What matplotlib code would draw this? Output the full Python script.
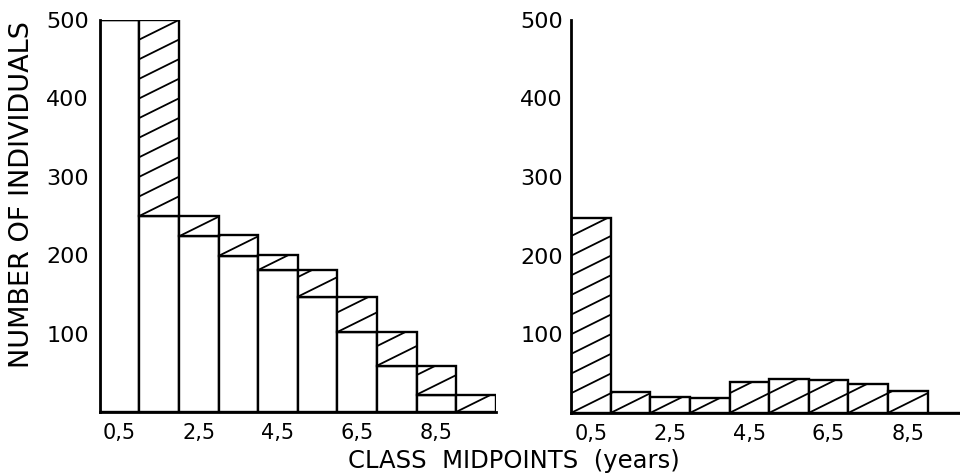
import matplotlib
matplotlib.use("Agg")
import matplotlib.pyplot as plt
import numpy as np
from matplotlib.collections import LineCollection

# Datos
midpoints = [0.5, 1.5, 2.5, 3.5, 4.5, 5.5, 6.5, 7.5, 8.5, 9.5]
# panel izquierdo: altura total y parte blanca de cada barra
left_tops = [500, 500, 250, 226, 200, 181, 147, 102, 59, 22]
left_white = [500, 250, 224, 199, 181, 147, 102, 59, 22, 0]
# panel derecho: solo barras rayadas
right_tops = [248, 27, 20, 19, 39, 43, 42, 37, 28, 0]

tick_pos = [0.5, 2.5, 4.5, 6.5, 8.5]
tick_labels = ["0,5", "2,5", "4,5", "6,5", "8,5"]
y_ticks = [100, 200, 300, 400, 500]

HATCH_SLOPE = 25   # unidades y por unidad x
HATCH_STEP = 25    # separacion vertical entre rayas
FONT = "DejaVu Sans"


def rayar(ax, patch, left, bottom, height, width=1.0):
    # lineas inclinadas recortadas a la barra
    segs = []
    for k in range(-1, int(np.ceil(height / HATCH_STEP)) + 1):
        y0 = bottom + k * HATCH_STEP
        segs.append([(left, y0), (left + width, y0 + HATCH_SLOPE * width)])
    lc = LineCollection(segs, colors="black", linewidths=1.3)
    ax.add_collection(lc)
    lc.set_clip_path(patch)


def estilo(ax, ypad):
    for s in ["top", "right"]:
        ax.spines[s].set_visible(False)
    for s in ["left", "bottom"]:
        ax.spines[s].set_linewidth(2.0)
    ax.set_xlim(0, 10)
    ax.set_ylim(0, 500)
    ax.set_xticks(tick_pos)
    ax.set_xticklabels(tick_labels, fontsize=15, family=FONT)
    ax.set_yticks(y_ticks)
    ax.set_yticklabels([str(v) for v in y_ticks], fontsize=16, family=FONT)
    ax.tick_params(axis="both", length=0)
    ax.tick_params(axis="x", pad=8)
    ax.tick_params(axis="y", pad=ypad)


fig = plt.figure(figsize=(9.6, 4.74), dpi=100)

# Panel izquierdo
ax1 = fig.add_axes([0.104, 0.131, 0.4125, 0.827])
estilo(ax1, 8)
white = ax1.bar(midpoints, left_white, width=1.0, color="white",
                edgecolor="black", linewidth=1.7, zorder=2)
hatch_h = [t - w for t, w in zip(left_tops, left_white)]
hbars = ax1.bar(midpoints, hatch_h, bottom=left_white, width=1.0, color="white",
                edgecolor="black", linewidth=1.7, zorder=2)
for x, b, h, p in zip(midpoints, left_white, hatch_h, hbars.patches):
    if h > 0:
        rayar(ax1, p, x - 0.5, b, h)

# Panel derecho
ax2 = fig.add_axes([0.595, 0.129, 0.4125, 0.829])
estilo(ax2, 6)
rbars = ax2.bar(midpoints, right_tops, width=1.0, color="white",
                edgecolor="black", linewidth=1.7, zorder=2)
for x, h, p in zip(midpoints, right_tops, rbars.patches):
    if h > 0:
        rayar(ax2, p, x - 0.5, 0, h)

fig.text(0.023, 0.59, "NUMBER OF INDIVIDUALS", rotation=90, ha="center",
         va="center", fontsize=19.5, family=FONT)
fig.text(0.535, 0.028, "CLASS  MIDPOINTS  (years)", ha="center", va="center",
         fontsize=17.5, family=FONT)

fig.savefig("out.png", dpi=100, facecolor="white")
